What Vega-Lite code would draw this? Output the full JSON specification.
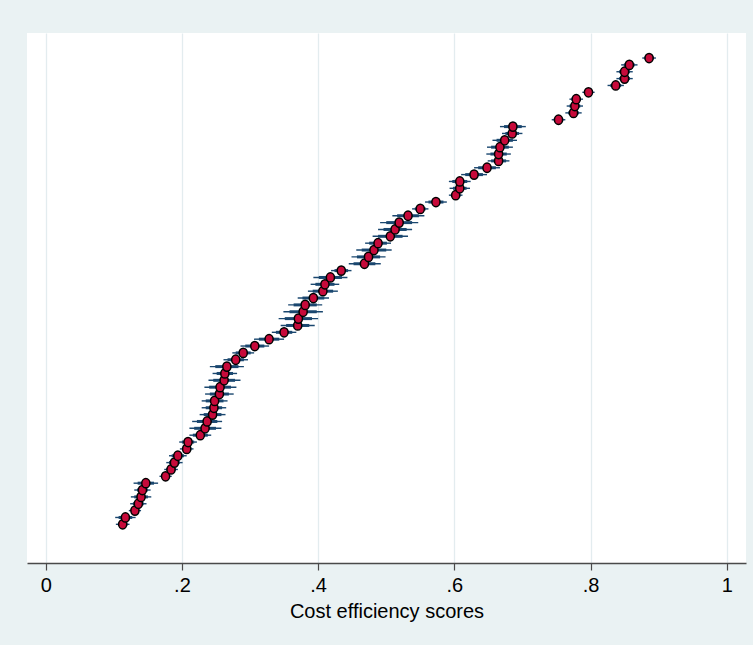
{
  "$schema": "https://vega.github.io/schema/vega-lite/v6.json",
  "autosize": {"type": "none"},
  "padding": {"left": 27, "top": 33, "right": 7, "bottom": 82},
  "width": 719,
  "height": 530,
  "background": "#eaf2f3",
  "config": {
    "view": {"stroke": null, "fill": "#ffffff"},
    "font": "Liberation Sans, Arial, sans-serif"
  },
  "data": {"values": [
    {"rank": 1, "score": 0.113, "lo": 0.103, "hi": 0.123, "lo2": 0.106, "hi2": 0.120},
    {"rank": 2, "score": 0.117, "lo": 0.102, "hi": 0.132, "lo2": 0.107, "hi2": 0.127},
    {"rank": 3, "score": 0.131, "lo": 0.122, "hi": 0.140, "lo2": 0.125, "hi2": 0.137},
    {"rank": 4, "score": 0.136, "lo": 0.124, "hi": 0.148, "lo2": 0.128, "hi2": 0.144},
    {"rank": 5, "score": 0.140, "lo": 0.125, "hi": 0.155, "lo2": 0.130, "hi2": 0.150},
    {"rank": 6, "score": 0.142, "lo": 0.130, "hi": 0.154, "lo2": 0.134, "hi2": 0.150},
    {"rank": 7, "score": 0.147, "lo": 0.129, "hi": 0.165, "lo2": 0.135, "hi2": 0.159},
    {"rank": 8, "score": 0.176, "lo": 0.167, "hi": 0.185, "lo2": 0.170, "hi2": 0.182},
    {"rank": 9, "score": 0.184, "lo": 0.174, "hi": 0.194, "lo2": 0.177, "hi2": 0.191},
    {"rank": 10, "score": 0.189, "lo": 0.177, "hi": 0.201, "lo2": 0.181, "hi2": 0.197},
    {"rank": 11, "score": 0.194, "lo": 0.181, "hi": 0.207, "lo2": 0.185, "hi2": 0.203},
    {"rank": 12, "score": 0.207, "lo": 0.197, "hi": 0.217, "lo2": 0.200, "hi2": 0.214},
    {"rank": 13, "score": 0.209, "lo": 0.196, "hi": 0.222, "lo2": 0.200, "hi2": 0.218},
    {"rank": 14, "score": 0.227, "lo": 0.211, "hi": 0.243, "lo2": 0.216, "hi2": 0.238},
    {"rank": 15, "score": 0.234, "lo": 0.211, "hi": 0.258, "lo2": 0.218, "hi2": 0.250},
    {"rank": 16, "score": 0.237, "lo": 0.215, "hi": 0.259, "lo2": 0.222, "hi2": 0.252},
    {"rank": 17, "score": 0.245, "lo": 0.226, "hi": 0.264, "lo2": 0.232, "hi2": 0.258},
    {"rank": 18, "score": 0.247, "lo": 0.229, "hi": 0.265, "lo2": 0.235, "hi2": 0.259},
    {"rank": 19, "score": 0.248, "lo": 0.229, "hi": 0.267, "lo2": 0.235, "hi2": 0.261},
    {"rank": 20, "score": 0.255, "lo": 0.234, "hi": 0.276, "lo2": 0.241, "hi2": 0.269},
    {"rank": 21, "score": 0.256, "lo": 0.233, "hi": 0.280, "lo2": 0.240, "hi2": 0.272},
    {"rank": 22, "score": 0.262, "lo": 0.239, "hi": 0.286, "lo2": 0.246, "hi2": 0.278},
    {"rank": 23, "score": 0.263, "lo": 0.245, "hi": 0.281, "lo2": 0.251, "hi2": 0.275},
    {"rank": 24, "score": 0.266, "lo": 0.241, "hi": 0.291, "lo2": 0.249, "hi2": 0.283},
    {"rank": 25, "score": 0.279, "lo": 0.261, "hi": 0.297, "lo2": 0.267, "hi2": 0.291},
    {"rank": 26, "score": 0.290, "lo": 0.274, "hi": 0.306, "lo2": 0.279, "hi2": 0.301},
    {"rank": 27, "score": 0.307, "lo": 0.286, "hi": 0.328, "lo2": 0.293, "hi2": 0.321},
    {"rank": 28, "score": 0.328, "lo": 0.306, "hi": 0.350, "lo2": 0.313, "hi2": 0.343},
    {"rank": 29, "score": 0.350, "lo": 0.332, "hi": 0.368, "lo2": 0.338, "hi2": 0.362},
    {"rank": 30, "score": 0.370, "lo": 0.345, "hi": 0.395, "lo2": 0.353, "hi2": 0.387},
    {"rank": 31, "score": 0.371, "lo": 0.342, "hi": 0.400, "lo2": 0.351, "hi2": 0.391},
    {"rank": 32, "score": 0.378, "lo": 0.349, "hi": 0.407, "lo2": 0.358, "hi2": 0.398},
    {"rank": 33, "score": 0.381, "lo": 0.356, "hi": 0.406, "lo2": 0.364, "hi2": 0.398},
    {"rank": 34, "score": 0.393, "lo": 0.370, "hi": 0.416, "lo2": 0.377, "hi2": 0.409},
    {"rank": 35, "score": 0.407, "lo": 0.385, "hi": 0.429, "lo2": 0.392, "hi2": 0.422},
    {"rank": 36, "score": 0.410, "lo": 0.389, "hi": 0.431, "lo2": 0.396, "hi2": 0.424},
    {"rank": 37, "score": 0.418, "lo": 0.393, "hi": 0.443, "lo2": 0.401, "hi2": 0.435},
    {"rank": 38, "score": 0.434, "lo": 0.419, "hi": 0.449, "lo2": 0.424, "hi2": 0.444},
    {"rank": 39, "score": 0.468, "lo": 0.445, "hi": 0.492, "lo2": 0.452, "hi2": 0.484},
    {"rank": 40, "score": 0.474, "lo": 0.449, "hi": 0.499, "lo2": 0.457, "hi2": 0.491},
    {"rank": 41, "score": 0.482, "lo": 0.456, "hi": 0.508, "lo2": 0.464, "hi2": 0.500},
    {"rank": 42, "score": 0.488, "lo": 0.469, "hi": 0.507, "lo2": 0.475, "hi2": 0.501},
    {"rank": 43, "score": 0.506, "lo": 0.480, "hi": 0.532, "lo2": 0.488, "hi2": 0.524},
    {"rank": 44, "score": 0.513, "lo": 0.488, "hi": 0.538, "lo2": 0.496, "hi2": 0.530},
    {"rank": 45, "score": 0.519, "lo": 0.491, "hi": 0.547, "lo2": 0.500, "hi2": 0.538},
    {"rank": 46, "score": 0.532, "lo": 0.509, "hi": 0.556, "lo2": 0.516, "hi2": 0.548},
    {"rank": 47, "score": 0.550, "lo": 0.538, "hi": 0.562, "lo2": 0.542, "hi2": 0.558},
    {"rank": 48, "score": 0.573, "lo": 0.557, "hi": 0.589, "lo2": 0.562, "hi2": 0.584},
    {"rank": 49, "score": 0.602, "lo": 0.592, "hi": 0.612, "lo2": 0.595, "hi2": 0.609},
    {"rank": 50, "score": 0.608, "lo": 0.593, "hi": 0.623, "lo2": 0.598, "hi2": 0.618},
    {"rank": 51, "score": 0.608, "lo": 0.592, "hi": 0.624, "lo2": 0.597, "hi2": 0.619},
    {"rank": 52, "score": 0.629, "lo": 0.610, "hi": 0.648, "lo2": 0.616, "hi2": 0.642},
    {"rank": 53, "score": 0.648, "lo": 0.629, "hi": 0.667, "lo2": 0.635, "hi2": 0.661},
    {"rank": 54, "score": 0.665, "lo": 0.649, "hi": 0.681, "lo2": 0.654, "hi2": 0.676},
    {"rank": 55, "score": 0.665, "lo": 0.647, "hi": 0.683, "lo2": 0.653, "hi2": 0.677},
    {"rank": 56, "score": 0.667, "lo": 0.648, "hi": 0.686, "lo2": 0.654, "hi2": 0.680},
    {"rank": 57, "score": 0.674, "lo": 0.656, "hi": 0.692, "lo2": 0.662, "hi2": 0.686},
    {"rank": 58, "score": 0.685, "lo": 0.670, "hi": 0.700, "lo2": 0.675, "hi2": 0.695},
    {"rank": 59, "score": 0.686, "lo": 0.667, "hi": 0.705, "lo2": 0.673, "hi2": 0.699},
    {"rank": 60, "score": 0.753, "lo": 0.743, "hi": 0.763, "lo2": 0.746, "hi2": 0.760},
    {"rank": 61, "score": 0.775, "lo": 0.763, "hi": 0.787, "lo2": 0.767, "hi2": 0.783},
    {"rank": 62, "score": 0.777, "lo": 0.765, "hi": 0.789, "lo2": 0.769, "hi2": 0.785},
    {"rank": 63, "score": 0.779, "lo": 0.769, "hi": 0.789, "lo2": 0.772, "hi2": 0.786},
    {"rank": 64, "score": 0.797, "lo": 0.788, "hi": 0.806, "lo2": 0.791, "hi2": 0.803},
    {"rank": 65, "score": 0.837, "lo": 0.825, "hi": 0.849, "lo2": 0.829, "hi2": 0.845},
    {"rank": 66, "score": 0.850, "lo": 0.838, "hi": 0.862, "lo2": 0.842, "hi2": 0.858},
    {"rank": 67, "score": 0.850, "lo": 0.838, "hi": 0.862, "lo2": 0.842, "hi2": 0.858},
    {"rank": 68, "score": 0.857, "lo": 0.845, "hi": 0.869, "lo2": 0.849, "hi2": 0.865},
    {"rank": 69, "score": 0.886, "lo": 0.876, "hi": 0.896, "lo2": 0.879, "hi2": 0.893}
  ]},
  "layer": [
    {
      "mark": {"type": "rule", "color": "#1a476f", "strokeWidth": 1.4},
      "encoding": {
        "x": {"field": "lo", "type": "quantitative",
          "scale": {"domain": [-0.0275, 1.0283], "nice": false, "zero": false},
          "axis": {
            "title": "Cost efficiency scores",
            "values": [0, 0.2, 0.4, 0.6, 0.8, 1],
            "labelExpr": "replace(format(datum.value, '.1~f'), '0.', '.')",
            "grid": true, "gridColor": "#e3ecef", "gridWidth": 1.3,
            "domainColor": "#4a4a4a", "domainWidth": 1.5,
            "tickColor": "#4a4a4a", "tickWidth": 1.2, "tickSize": 7,
            "labelFontSize": 20, "labelColor": "#000000", "labelPadding": 5, "labelFlush": false,
            "titleFontSize": 20, "titleFontWeight": "normal", "titleColor": "#000000", "titlePadding": 6
          }},
        "x2": {"field": "hi"},
        "y": {"field": "rank", "type": "quantitative",
          "scale": {"domain": [-4.64, 72.65], "nice": false, "zero": false},
          "axis": null}
      }
    },
    {
      "mark": {"type": "rule", "color": "#1a476f", "strokeWidth": 3},
      "encoding": {
        "x": {"field": "lo2", "type": "quantitative"},
        "x2": {"field": "hi2"},
        "y": {"field": "rank", "type": "quantitative"}
      }
    },
    {
      "mark": {"type": "point", "filled": true, "fill": "#c70a3a", "fillOpacity": 1, "stroke": "#000000", "strokeWidth": 1.5, "opacity": 1,
        "shape": "M -0.88 0 A 0.88 1 0 1 0 0.88 0 A 0.88 1 0 1 0 -0.88 0 Z", "size": 86},
      "encoding": {
        "x": {"field": "score", "type": "quantitative"},
        "y": {"field": "rank", "type": "quantitative"}
      }
    }
  ]
}
